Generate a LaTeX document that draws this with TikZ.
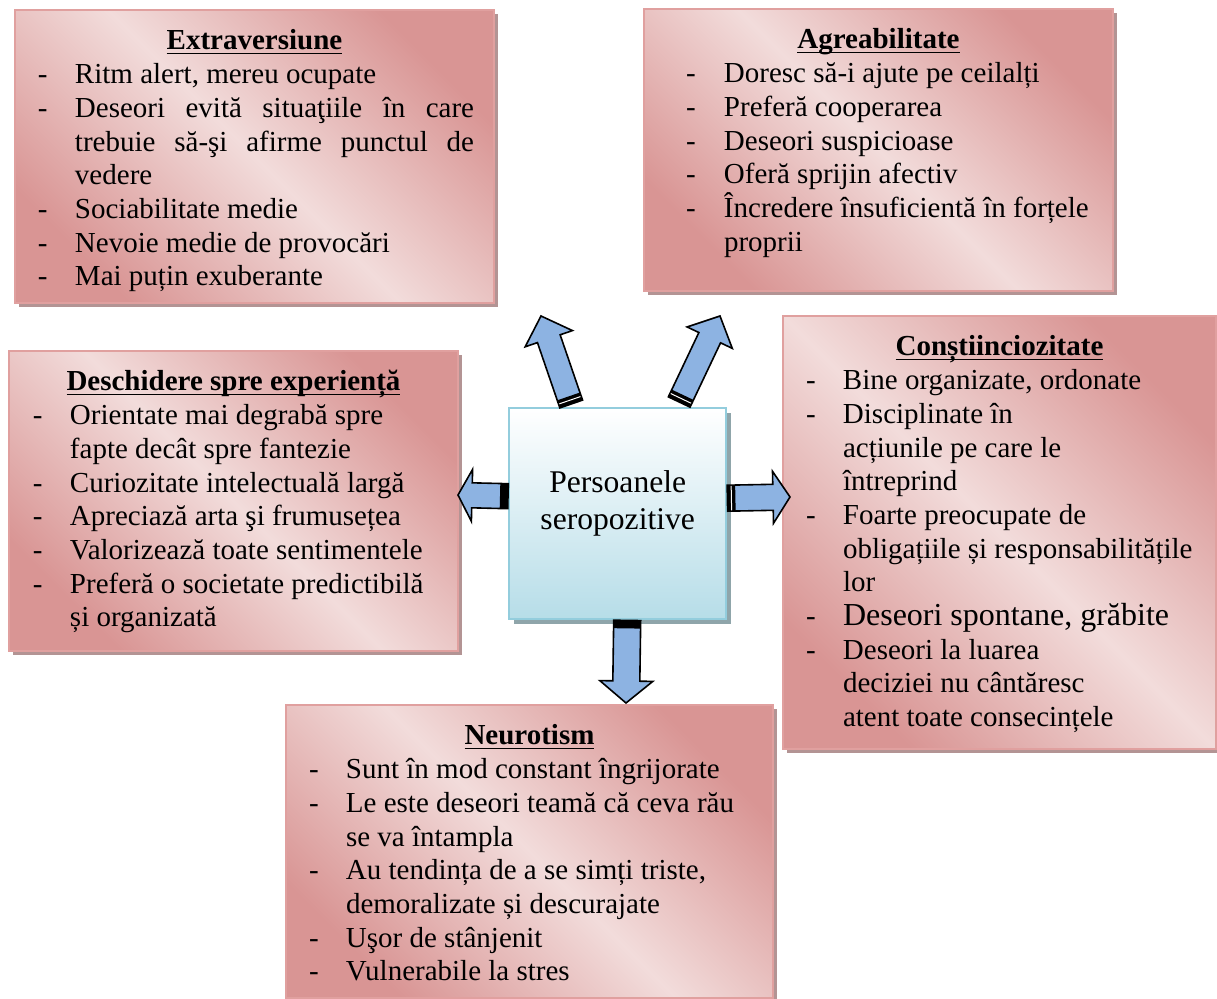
\documentclass[tikz,border=0pt]{standalone}
\usepackage{fontspec}
\setmainfont{Liberation Serif}
\usetikzlibrary{calc,shadows}

\definecolor{rosedark}{HTML}{D99594}
\definecolor{roselight}{HTML}{F2DCDB}
\definecolor{roseedge}{HTML}{E0A09F}
\definecolor{roseshadow}{HTML}{B39494}
\definecolor{bluebottom}{HTML}{B6DDE8}
\definecolor{blueedge}{HTML}{93CDDD}
\definecolor{blueshadow}{HTML}{8FA5AA}
\definecolor{arrowblue}{HTML}{8DB3E2}

\newlength{\dashgap}
\setlength{\dashgap}{18.5pt}
\newcommand{\titleline}[1]{\leavevmode\setbox0\hbox{#1}\rlap{\rule[-2.2pt]{\wd0}{0.9pt}}\box0}
\newcommand{\trait}[1]{\par\noindent\hangindent=\dashgap\hangafter=1\makebox[\dashgap][l]{-}#1\par}
% width, height, left skip, title, items
\newcommand{\traitbox}[5]{%
  \parbox[c][#2][t]{#1}{\fontsize{14.5}{16.85}\selectfont\hyphenpenalty=10000
    \vspace*{8.2pt}{\centering\bfseries\titleline{#4}\strut\par}%
    \leftskip=#3\relax #5}}
% tail, tip, head length, shaft half width, head half width
\newcommand{\bigarrow}[5]{%
  \coordinate (hb) at ($(#2)!#3!(#1)$);
  \coordinate (bd) at ($(#1)!4pt!(#2)$);
  \draw [fatarrow] ($(#1)!#4!90:(#2)$) -- ($(hb)!#4!90:(#2)$) -- ($(hb)!#5!90:(#2)$) -- (#2)
    -- ($(hb)!#5!-90:(#2)$) -- ($(hb)!#4!-90:(#2)$) -- ($(#1)!#4!-90:(#2)$) -- cycle;
  \fill ($(#1)!#4!90:(#2)$) -- ($(bd)!#4!90:(#2)$) -- ($(bd)!#4!-90:(#2)$) -- ($(#1)!#4!-90:(#2)$) -- cycle;
}
% thin white line across the black tail band
\newcommand{\tailstripe}[3]{%
  \coordinate (st) at ($(#1)!2pt!(#2)$);
  \draw [white, line width=0.5pt] ($(st)!#3!90:(#2)$) -- ($(st)!#3!-90:(#2)$);
}

\begin{document}
\begin{tikzpicture}[x=0.5pt, y=-0.5pt,
    traitnode/.style={anchor=north west, inner sep=0pt, draw=roseedge, line width=1pt,
      top color=rosedark, bottom color=rosedark, middle color=roselight, shading angle=-45,
      drop shadow={shadow xshift=2pt, shadow yshift=-2pt, fill=roseshadow, opacity=1}},
    centerbox/.style={anchor=north west, inner sep=0pt, draw=blueedge, line width=1.2pt,
      top color=white, bottom color=bluebottom,
      drop shadow={shadow xshift=2.5pt, shadow yshift=-2.5pt, fill=blueshadow, opacity=1}},
    fatarrow/.style={draw=black, fill=arrowblue, line width=0.8pt, line join=miter}]

    \useasboundingbox (0,0) rectangle (1217,999);

    \node [traitnode] (extra) at (14,9) {\traitbox{239.5pt}{146.5pt}{11.5pt}{Extraversiune}{%
        \rightskip=10pt
        \trait{Ritm alert, mereu ocupate}
        \trait{Deseori evită situaţiile în care\linebreak trebuie să-şi afirme punctul de\linebreak vedere}
        \trait{Sociabilitate medie}
        \trait{Nevoie medie de provocări}
        \trait{Mai puțin exuberante}}};

    \node [traitnode] (agre) at (643,8) {\setlength{\dashgap}{19pt}\traitbox{234.5pt}{141pt}{21pt}{Agreabilitate}{%
        \trait{Doresc să-i ajute pe ceilalți}
        \trait{Preferă cooperarea}
        \trait{Deseori suspicioase}
        \trait{Oferă sprijin afectiv}
        \trait{Încredere însuficientă în forțele\\ proprii}}};

    \node [traitnode] (desc) at (8,350) {\traitbox{224.5pt}{150pt}{12pt}{Deschidere spre experiență}{%
        \trait{Orientate mai degrabă spre\\ fapte decât spre fantezie}
        \trait{Curiozitate intelectuală largă}
        \trait{Apreciază arta şi frumusețea}
        \trait{Valorizează toate sentimentele}
        \trait{Preferă o societate predictibilă\\ și organizată}}};

    \node [traitnode] (cons) at (782,315) {\traitbox{216.5pt}{216.5pt}{11.5pt}{Conștiinciozitate}{%
        \trait{Bine organizate, ordonate}
        \trait{Disciplinate în\\ acțiunile pe care le\\ întreprind}
        \trait{Foarte preocupate de\\ obligațiile și responsabilitățile\\ lor}
        \trait{{\fontsize{16}{18.5}\selectfont Deseori spontane, grăbite}}
        \trait{Deseori la luarea\\ deciziei nu cântăresc\\ atent toate consecințele}}};

    \node [traitnode] (neur) at (285,704) {\traitbox{243.5pt}{146.5pt}{11.5pt}{Neurotism}{%
        \trait{Sunt în mod constant îngrijorate}
        \trait{Le este deseori teamă că ceva rău\\ se va întampla}
        \trait{Au tendința de a se simți triste,\\ demoralizate și descurajate}
        \trait{Uşor de stânjenit}
        \trait{Vulnerabile la stres}}};

    \node [centerbox] (pers) at (508,407) {\parbox[c][105.5pt][t]{108.5pt}{\centering
        \fontsize{15.8}{18.5}\selectfont\vspace*{31pt}Persoanele\\seropozitive}};

    % arrows from the centre
    \coordinate (outE) at ($(pers.north)+(-46.5,-3)$);
    \coordinate (outA) at ($(pers.north)+(61.5,-5)$);
    \coordinate (outD) at ($(pers.west)+(0,-17.5)$);
    \coordinate (outC) at ($(pers.east)+(0,-15.5)$);
    \coordinate (outN) at ($(pers.south)+(9.5,0)$);
    \coordinate (tipE) at (541,316);
    \coordinate (tipA) at (720,316);
    \coordinate (tipD) at (458,495);
    \coordinate (tipC) at (790,497);
    \coordinate (tipN) at (626,703);

    \bigarrow{outE}{tipE}{12pt}{6pt}{12.5pt}
    \bigarrow{outA}{tipA}{12pt}{6pt}{12.5pt}
    \bigarrow{outD}{tipD}{7pt}{6.25pt}{13pt}
    \bigarrow{outC}{tipC}{8.5pt}{6.5pt}{13pt}
    \bigarrow{outN}{tipN}{11pt}{6.75pt}{13.25pt}
    \tailstripe{outE}{tipE}{5.6pt}
    \tailstripe{outA}{tipA}{5.6pt}
    \tailstripe{outC}{tipC}{6.1pt}

\end{tikzpicture}
\end{document}
